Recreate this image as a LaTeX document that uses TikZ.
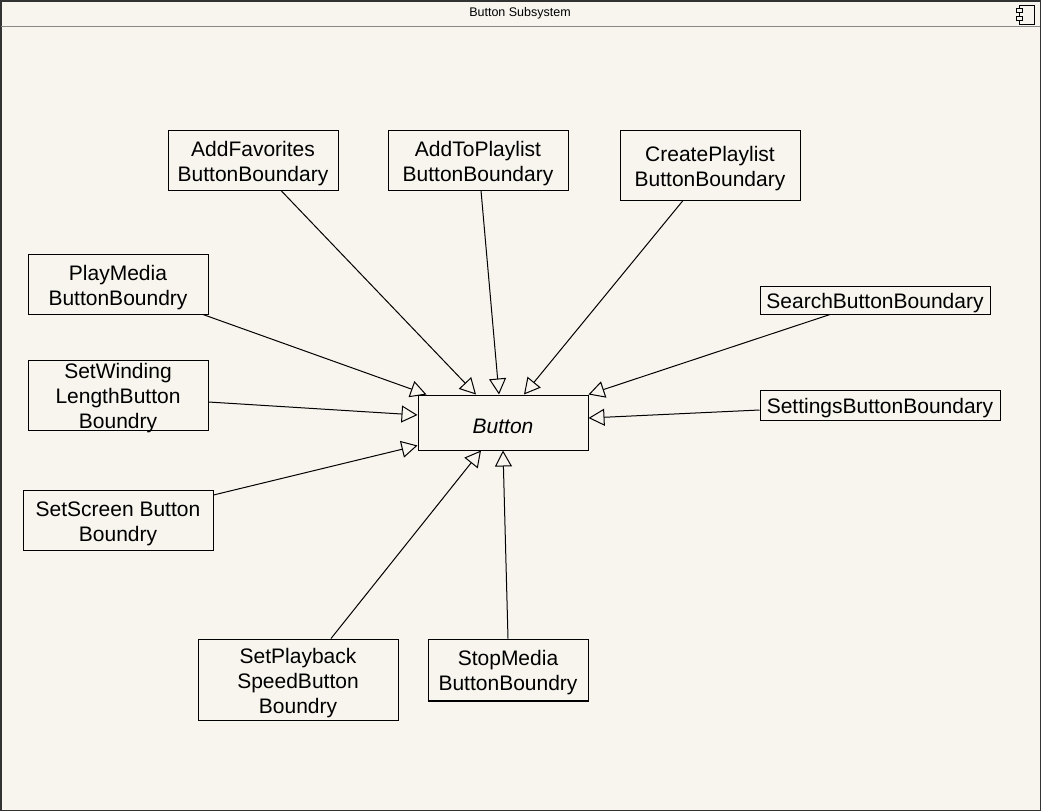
\documentclass[tikz,border=0pt]{standalone}
\usepackage{fontspec}
\setmainfont{Liberation Sans}
\usetikzlibrary{arrows.meta}
\definecolor{bg}{HTML}{F8F5EE}
\definecolor{frame}{HTML}{333333}
\definecolor{sep}{HTML}{888888}
\tikzset{
  box/.style={draw=black, line width=1pt, inner sep=0pt},
  tx/.style={inner sep=0pt, align=center, yshift=-3.5pt, font=\fontsize{21}{25}\selectfont},
  gen/.style={draw=black, line width=1pt, -{Triangle[open, length=16pt, width=17pt, line width=1pt]}},
}
\begin{document}
\begin{tikzpicture}[x=1pt, y=-1pt]
\useasboundingbox (0,0) rectangle (1041,811);
\fill[bg] (0,0) rectangle (1041,811);
% frame
\draw[frame, line width=1.5pt] (0.75,0.75) rectangle (1040.25,810.25);
\draw[sep, line width=1pt] (0.75,26) -- (1040.25,26);
\node[font=\fontsize{12.5}{14}\selectfont, inner sep=0pt] (title) at (520,13.5) {Button Subsystem};
% component icon
\draw[black, line width=1pt, fill=bg] (1019,5) rectangle (1034,24);
\draw[black, line width=1pt, fill=bg] (1016,8) rectangle (1022,12);
\draw[black, line width=1pt, fill=bg] (1016,16) rectangle (1022,20);
% nodes
\node[box, minimum width=170pt, minimum height=60pt, label={[tx]center:{AddFavorites\\ButtonBoundary}}] (af) at (253,160) {};
\node[box, minimum width=180pt, minimum height=60pt, label={[tx]center:{AddToPlaylist\\ButtonBoundary}}] (atp) at (478,160) {};
\node[box, minimum width=180pt, minimum height=70pt, label={[tx]center:{CreatePlaylist\\ButtonBoundary}}] (cp) at (710,165) {};
\node[box, minimum width=180pt, minimum height=60pt, label={[tx]center:{PlayMedia\\ButtonBoundry}}] (pm) at (118,284) {};
\node[box, minimum width=180pt, minimum height=70pt, label={[tx]center:{SetWinding\\LengthButton\\Boundry}}] (sw) at (118,395) {};
\node[box, minimum width=190pt, minimum height=60pt, label={[tx]center:{SetScreen Button\\Boundry}}] (ss) at (118,520) {};
\node[box, minimum width=230pt, minimum height=28pt, label={[tx]center:{SearchButtonBoundary}}] (search) at (875,300) {};
\node[box, minimum width=240pt, minimum height=30pt, label={[tx]center:{SettingsButtonBoundary}}] (set) at (880,405) {};
\node[box, minimum width=170pt, minimum height=55pt, label={[tx, font=\fontsize{21}{25}\selectfont\itshape]center:{Button}}] (btn) at (503,422.5) {};
\node[box, minimum width=200pt, minimum height=81pt, label={[tx]center:{SetPlayback\\SpeedButton\\Boundry}}] (sp) at (298,679.5) {};
\node[box, minimum width=160pt, minimum height=61pt, label={[tx]center:{StopMedia\\ButtonBoundry}}] (sm) at (508,669.5) {};
\draw[black, line width=2pt] (sm.south west) -- (sm.south east);
% connectors
\draw[gen] ([xshift=28pt]af.south) -- ([xshift=-27pt]btn.north);
\draw[gen] ([xshift=3pt]atp.south) -- ([xshift=-4pt]btn.north);
\draw[gen] ([xshift=-27pt]cp.south) -- ([xshift=21pt]btn.north);
\draw[gen] ([xshift=85pt]pm.south) -- ([xshift=9pt]btn.north west);
\draw[gen] ([yshift=-7pt]sw.east) -- ([yshift=7.5pt]btn.west);
\draw[gen] ([yshift=25pt]ss.east) -- ([yshift=5pt]btn.south west);
\draw[gen] ([xshift=-45pt]search.south) -- (btn.north east);
\draw[gen] ([yshift=-5pt]set.west) -- ([yshift=4.5pt]btn.east);
\draw[gen] ([xshift=33pt]sp.north) -- ([xshift=-22pt]btn.south);
\draw[gen] (sm.north) -- (btn.south);
\end{tikzpicture}
\end{document}
